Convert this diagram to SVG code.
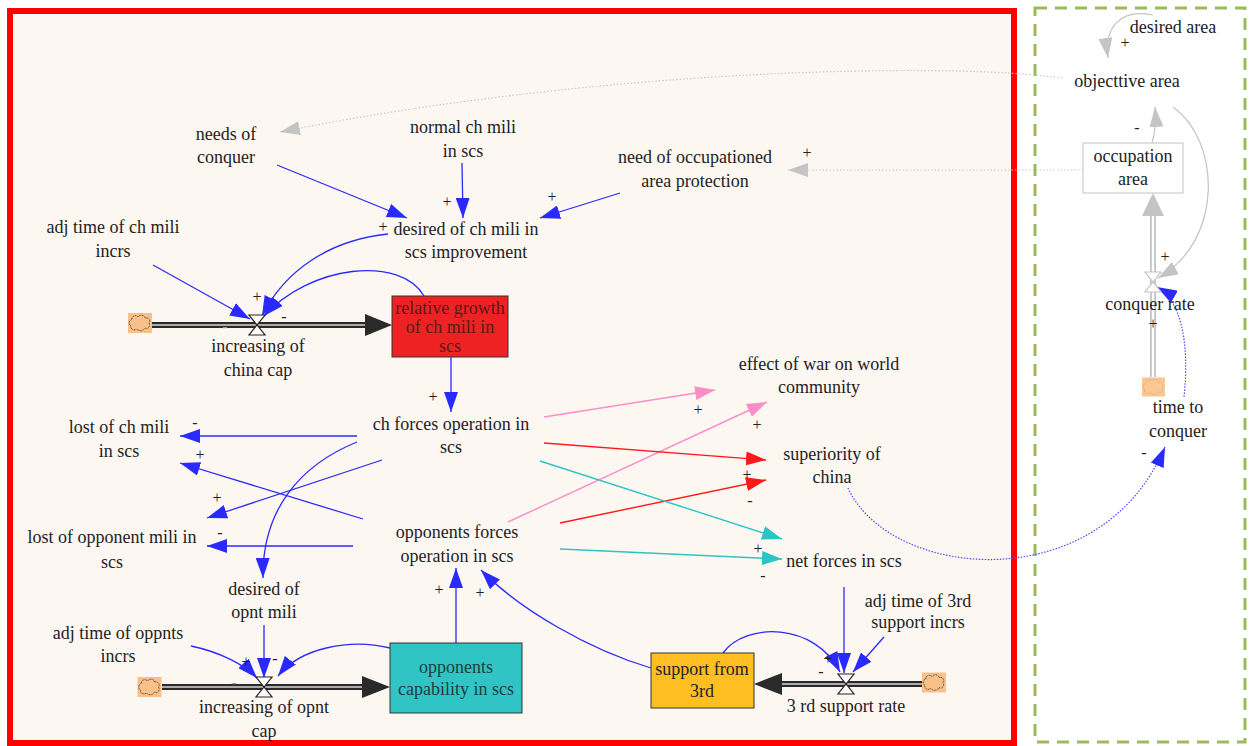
<svg xmlns="http://www.w3.org/2000/svg" width="1249" height="746" viewBox="0 0 1249 746" font-family="'Liberation Serif', 'DejaVu Serif', serif">
  <defs>
    <style>
      text { font-family: "Liberation Serif", "DejaVu Serif", serif; }
      .t { font-size: 18px; fill: #222; text-anchor: middle; }
      .s { font-size: 16px; fill: #222; text-anchor: middle; }
      .sg { font-size: 16px; fill: #999; text-anchor: middle; }
      .lb { fill: none; stroke: #2a2aff; stroke-width: 1.3; marker-end: url(#aB); }
      .lbd { fill: none; stroke: #4a4aff; stroke-width: 1.2; stroke-dasharray: 1.5 1.5; marker-end: url(#aB); }
      .lp { fill: none; stroke: #ff8cc6; stroke-width: 1.4; marker-end: url(#aP); }
      .lr { fill: none; stroke: #ff1a1a; stroke-width: 1.4; marker-end: url(#aR); }
      .lt { fill: none; stroke: #2cc4c4; stroke-width: 1.4; marker-end: url(#aT); }
      .lg { fill: none; stroke: #c4c4c4; stroke-width: 1.2; marker-end: url(#aG); }
      .lgd { fill: none; stroke: #c8c8c8; stroke-width: 1.2; stroke-dasharray: 1.5 2; marker-end: url(#aG); }
      .pipeO { fill: none; stroke: #2a2a2a; stroke-width: 6; }
      .pipeI { fill: none; stroke: #d8d8d8; stroke-width: 1.6; }
      .pipeOG { fill: none; stroke: #c4c4c4; stroke-width: 6; }
      .pipeIG { fill: none; stroke: #ffffff; stroke-width: 2.4; }
      .valve { fill: #ffffff; stroke: #222; stroke-width: 1.2; }
      .valveG { fill: #ffffff; stroke: #c4c4c4; stroke-width: 1.2; }
    </style>
    <marker id="aB" viewBox="0 0 20 14" refX="20" refY="7" markerWidth="20" markerHeight="14" markerUnits="userSpaceOnUse" orient="auto">
      <path d="M0,0 L20,7 L0,14 Z" fill="#2a2aff"/>
    </marker>
    <marker id="aP" viewBox="0 0 20 14" refX="20" refY="7" markerWidth="20" markerHeight="14" markerUnits="userSpaceOnUse" orient="auto">
      <path d="M0,0 L20,7 L0,14 Z" fill="#ff8cc6"/>
    </marker>
    <marker id="aR" viewBox="0 0 20 14" refX="20" refY="7" markerWidth="20" markerHeight="14" markerUnits="userSpaceOnUse" orient="auto">
      <path d="M0,0 L20,7 L0,14 Z" fill="#ff1a1a"/>
    </marker>
    <marker id="aT" viewBox="0 0 20 14" refX="20" refY="7" markerWidth="20" markerHeight="14" markerUnits="userSpaceOnUse" orient="auto">
      <path d="M0,0 L20,7 L0,14 Z" fill="#2cc4c4"/>
    </marker>
    <marker id="aG" viewBox="0 0 20 14" refX="20" refY="7" markerWidth="20" markerHeight="14" markerUnits="userSpaceOnUse" orient="auto">
      <path d="M0,0 L20,7 L0,14 Z" fill="#c4c4c4"/>
    </marker>
    <symbol id="cloud" viewBox="0 0 24 20">
      <rect x="0" y="0" width="24" height="20" fill="#f9c08a"/>
      <path d="M4,6 C4,2 9,2 10,4 C12,1 17,2 17,5 C21,4 23,8 21,10 C23,13 20,17 17,15 C15,19 10,18 9,16 C6,18 2,16 3,13 C0,12 1,7 4,6 Z" fill="#f9c08a" stroke="#333" stroke-width="0.8" stroke-dasharray="1 0.6"/>
    </symbol>
    <symbol id="cloudG" viewBox="0 0 24 20">
      <rect x="0" y="0" width="24" height="20" fill="#fcc892"/>
      <path d="M4,6 C4,2 9,2 10,4 C12,1 17,2 17,5 C21,4 23,8 21,10 C23,13 20,17 17,15 C15,19 10,18 9,16 C6,18 2,16 3,13 C0,12 1,7 4,6 Z" fill="#fcc892" stroke="#d0b090" stroke-width="0.8"/>
    </symbol>
  </defs>

  <rect x="0" y="0" width="1249" height="746" fill="#ffffff"/>

  <!-- model sectors -->
  <rect id="sector-main" x="10" y="11" width="1004" height="732" fill="#fdf7f2" stroke="#ff0000" stroke-width="6"/>
  <rect id="sector-area" x="1035" y="8" width="210" height="734" fill="none" stroke="#9bbb59" stroke-width="3" stroke-dasharray="12 8"/>

  <!-- material flows (pipes) -->
  <g id="flows">
    <path class="pipeO" d="M152,325 L368,325"/>
    <path class="pipeI" d="M152,325 L368,325"/>
    <path d="M365,314 L392,325 L365,336 Z" fill="#2a2a2a"/>

    <path class="pipeO" d="M162,687 L364,687"/>
    <path class="pipeI" d="M162,687 L364,687"/>
    <path d="M362,676 L390,687 L362,698 Z" fill="#2a2a2a"/>

    <path class="pipeO" d="M922,684 L780,684"/>
    <path class="pipeI" d="M922,684 L780,684"/>
    <path d="M782,673 L754,684 L782,695 Z" fill="#2a2a2a"/>

    <path class="pipeOG" d="M1153,377 L1153,213"/>
    <path class="pipeIG" d="M1153,377 L1153,213"/>
    <path d="M1142,216 L1153,193 L1164,216 Z" fill="#c4c4c4"/>
  </g>

  <!-- causal links -->
  <g id="connectors">
    <path class="lb" d="M277,165 L407,218"/>
    <path class="lb" d="M462,163 L463,218"/>
    <path class="lb" d="M620,193 L540,218"/>
    <path class="lb" d="M153,265 L250,319"/>
    <path class="lb" d="M388,234 C330,240 285,270 262,316"/>
    <path class="lb" d="M424,296 C400,255 310,265 264,316"/>
    <path class="lb" d="M451,357 L451,412"/>
    <path class="lb" d="M357,436 L180,436"/>
    <path class="lb" d="M363,519 L180,463"/>
    <path class="lb" d="M382,460 L207,518"/>
    <path class="lb" d="M353,546 L207,546"/>
    <path class="lb" d="M357,442 C300,465 262,510 263,578"/>
    <path class="lb" d="M264,625 L264,678"/>
    <path class="lb" d="M191,646 C220,652 245,665 257,678"/>
    <path class="lb" d="M390,648 C350,638 300,648 278,676"/>
    <path class="lb" d="M456,643 L456,568"/>
    <path class="lb" d="M651,668 C590,650 520,610 481,570"/>
    <path class="lb" d="M723,653 C745,622 815,622 840,672"/>
    <path class="lb" d="M844,587 L844,673"/>
    <path class="lb" d="M884,637 L853,672"/>

    <path class="lp" d="M544,417 L715,390"/>
    <path class="lp" d="M508,522 L767,402"/>
    <path class="lr" d="M544,443 L766,460"/>
    <path class="lr" d="M560,523 L766,480"/>
    <path class="lt" d="M540,461 L782,539"/>
    <path class="lt" d="M560,549 L782,559"/>

    <path class="lbd" d="M848,488 C890,580 1100,600 1165,447"/>
    <path class="lbd" d="M1184,397 C1190,340 1180,300 1157,287"/>

    <path class="lgd" d="M1062,78 C950,62 600,68 280,132"/>
    <path class="lgd" d="M1083,170 L788,170"/>
    <path class="lg" d="M1153,15 C1120,8 1104,28 1108,58"/>
    <path class="lg" d="M1152,143 C1156,130 1156,120 1155,107"/>
    <path class="lg" d="M1173,107 C1220,140 1225,240 1158,278"/>
  </g>

  <!-- polarity signs -->
  <g id="polarities">
    <text class="s" x="383" y="232">+</text>
    <text class="s" x="447" y="207">+</text>
    <text class="s" x="552" y="202">+</text>
    <text class="s" x="807" y="158">+</text>
    <text class="s" x="257" y="302">+</text>
    <text class="s" x="284" y="322">-</text>
    <text class="sg" x="225" y="332">-</text>
    <text class="s" x="433" y="402">+</text>
    <text class="s" x="195" y="428">-</text>
    <text class="s" x="200" y="460">+</text>
    <text class="s" x="217" y="503">+</text>
    <text class="s" x="220" y="538">-</text>
    <text class="s" x="698" y="415">+</text>
    <text class="s" x="757" y="430">+</text>
    <text class="s" x="747" y="480">+</text>
    <text class="s" x="750" y="506">-</text>
    <text class="s" x="758" y="554">+</text>
    <text class="s" x="763" y="581">-</text>
    <text class="s" x="246" y="667">+</text>
    <text class="s" x="275" y="664">-</text>
    <text class="sg" x="234" y="688">-</text>
    <text class="s" x="439" y="595">+</text>
    <text class="s" x="480" y="598">+</text>
    <text class="s" x="828" y="664">+</text>
    <text class="s" x="821" y="677">-</text>
    <text class="s" x="1125" y="48">+</text>
    <text class="s" x="1137" y="133">-</text>
    <text class="s" x="1165" y="262">+</text>
    <text class="s" x="1153" y="329">+</text>
    <text class="s" x="1144" y="458">-</text>
  </g>

  <!-- variables -->
  <g id="needs-of-conquer"><text class="t" x="226" y="140">needs of<tspan x="226" y="163">conquer</tspan></text></g>
  <g id="normal-ch-mili"><text class="t" x="463" y="133">normal ch mili<tspan x="463" y="157">in scs</tspan></text></g>
  <g id="need-of-occupationed"><text class="t" x="695" y="163">need of occupationed<tspan x="695" y="187">area protection</tspan></text></g>
  <g id="desired-ch-mili"><text class="t" x="466" y="235">desired of ch mili in<tspan x="466" y="258">scs improvement</tspan></text></g>
  <g id="adj-time-ch"><text class="t" x="113" y="233">adj time of ch mili<tspan x="113" y="257">incrs</tspan></text></g>

  <g id="increasing-china-cap">
    <use href="#cloud" x="128" y="313" width="24" height="20"/>
    <path class="valve" d="M249,315 L265,315 L257,325 Z M249,335 L265,335 L257,325 Z"/>
    <text class="t" x="258" y="352">increasing of<tspan x="258" y="376">china cap</tspan></text>
  </g>

  <g id="relative-growth">
    <rect x="392" y="296" width="116" height="61" fill="#ee2222" stroke="#333" stroke-width="1"/>
    <text class="t" x="450" y="314" style="fill:#5a1a1a">relative growth<tspan x="450" y="333">of ch mili in</tspan><tspan x="450" y="352">scs</tspan></text>
  </g>

  <g id="ch-forces"><text class="t" x="451" y="430">ch forces operation in<tspan x="451" y="453">scs</tspan></text></g>
  <g id="lost-ch-mili"><text class="t" x="119" y="433">lost of ch mili<tspan x="119" y="457">in scs</tspan></text></g>
  <g id="lost-opponent-mili"><text class="t" x="112" y="543">lost of opponent mili in<tspan x="112" y="568">scs</tspan></text></g>
  <g id="opponents-forces"><text class="t" x="457" y="538">opponents forces<tspan x="457" y="562">operation in scs</tspan></text></g>
  <g id="effect-of-war"><text class="t" x="819" y="370">effect of war on world<tspan x="819" y="393">community</tspan></text></g>
  <g id="superiority"><text class="t" x="832" y="460">superiority of<tspan x="832" y="483">china</tspan></text></g>
  <g id="net-forces"><text class="t" x="844" y="567">net forces in scs</text></g>
  <g id="desired-opnt-mili"><text class="t" x="264" y="595">desired of<tspan x="264" y="618">opnt mili</tspan></text></g>
  <g id="adj-time-oppnts"><text class="t" x="118" y="639">adj time of oppnts<tspan x="118" y="662">incrs</tspan></text></g>

  <g id="increasing-opnt-cap">
    <use href="#cloud" x="137" y="677" width="25" height="20"/>
    <path class="valve" d="M256,677 L272,677 L264,687 Z M256,697 L272,697 L264,687 Z"/>
    <text class="t" x="264" y="713">increasing of opnt<tspan x="264" y="737">cap</tspan></text>
  </g>

  <g id="opponents-capability">
    <rect x="390" y="643" width="132" height="70" fill="#30c4c4" stroke="#333" stroke-width="1"/>
    <text class="t" x="456" y="673" style="fill:#1e3f3f">opponents<tspan x="456" y="695">capability in scs</tspan></text>
  </g>

  <g id="support-from-3rd">
    <rect x="651" y="653" width="103" height="55" fill="#ffbe22" stroke="#333" stroke-width="1"/>
    <text class="t" x="702" y="675">support from<tspan x="702" y="697">3rd</tspan></text>
  </g>

  <g id="support-rate">
    <use href="#cloud" x="922" y="672" width="24" height="21"/>
    <path class="valve" d="M838,674 L854,674 L846,684 Z M838,694 L854,694 L846,684 Z"/>
    <text class="t" x="846" y="712">3 rd support rate</text>
  </g>

  <g id="adj-time-3rd"><text class="t" x="918" y="607">adj time of 3rd<tspan x="918" y="628">support incrs</tspan></text></g>

  <g id="desired-area"><text class="t" x="1173" y="33">desired area</text></g>
  <g id="objective-area"><text class="t" x="1127" y="87">objecttive area</text></g>
  <g id="occupation-area">
    <rect x="1083" y="143" width="100" height="50" fill="#ffffff" stroke="#c4c4c4" stroke-width="1"/>
    <text class="t" x="1133" y="162">occupation<tspan x="1133" y="185">area</tspan></text>
  </g>
  <g id="conquer-rate">
    <use href="#cloudG" x="1142" y="377" width="23" height="20"/>
    <path class="valveG" d="M1145,272 L1161,272 L1153,282 Z M1145,292 L1161,292 L1153,282 Z"/>
    <text class="t" x="1150" y="310">conquer rate</text>
  </g>
  <g id="time-to-conquer"><text class="t" x="1178" y="413">time to<tspan x="1178" y="437">conquer</tspan></text></g>
</svg>
